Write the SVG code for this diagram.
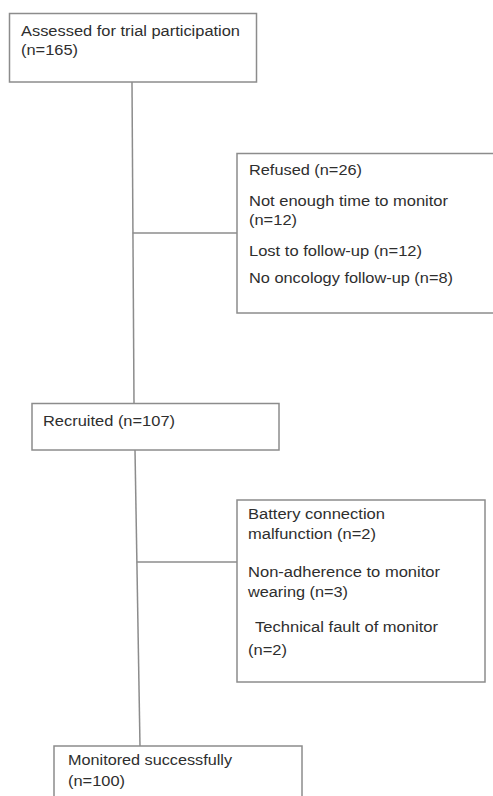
<svg xmlns="http://www.w3.org/2000/svg" width="493" height="796" viewBox="0 0 493 796">
<style>
.box{fill:#fff;stroke:#8c8c8c;stroke-width:1.5}
.ln{fill:none;stroke:#8c8c8c;stroke-width:1.5}
text{font-family:"Liberation Sans",Arial,sans-serif;font-size:14px;fill:#2e2e2e}
</style>
<rect width="493" height="796" fill="#fff"/>
<g id="connectors">
<line class="ln" x1="132" y1="82" x2="134" y2="403"/>
<line class="ln" x1="132.7" y1="233" x2="237" y2="233"/>
<line class="ln" x1="135" y1="450" x2="140" y2="746"/>
<line class="ln" x1="136.9" y1="562" x2="237" y2="562"/>
</g>
<g id="assessed">
<rect class="box" x="9.5" y="13.5" width="247" height="68.5"/>
<text x="21" y="36" textLength="219" lengthAdjust="spacingAndGlyphs">Assessed for trial participation</text>
<text x="21" y="55" textLength="57" lengthAdjust="spacingAndGlyphs">(n=165)</text>
</g>
<g id="refused">
<rect class="box" x="237" y="153.5" width="262" height="159.5"/>
<text x="249" y="175" textLength="113" lengthAdjust="spacingAndGlyphs">Refused (n=26)</text>
<text x="249" y="206" textLength="199" lengthAdjust="spacingAndGlyphs">Not enough time to monitor</text>
<text x="249" y="225" textLength="48" lengthAdjust="spacingAndGlyphs">(n=12)</text>
<text x="249" y="256" textLength="173" lengthAdjust="spacingAndGlyphs">Lost to follow-up (n=12)</text>
<text x="249" y="283" textLength="204" lengthAdjust="spacingAndGlyphs">No oncology follow-up (n=8)</text>
</g>
<g id="recruited">
<rect class="box" x="32" y="403.5" width="247" height="46.5"/>
<text x="43" y="426" textLength="132" lengthAdjust="spacingAndGlyphs">Recruited (n=107)</text>
</g>
<g id="excluded">
<rect class="box" x="237" y="500" width="248" height="182"/>
<text x="248" y="519" textLength="137" lengthAdjust="spacingAndGlyphs">Battery connection</text>
<text x="248" y="539" textLength="128" lengthAdjust="spacingAndGlyphs">malfunction (n=2)</text>
<text x="248" y="577" textLength="192" lengthAdjust="spacingAndGlyphs">Non-adherence to monitor</text>
<text x="248" y="597" textLength="100" lengthAdjust="spacingAndGlyphs">wearing (n=3)</text>
<text x="255" y="632" textLength="183" lengthAdjust="spacingAndGlyphs">Technical fault of monitor</text>
<text x="248" y="655" textLength="39" lengthAdjust="spacingAndGlyphs">(n=2)</text>
</g>
<g id="monitored">
<rect class="box" x="54" y="746" width="248" height="60"/>
<text x="68" y="765" textLength="164" lengthAdjust="spacingAndGlyphs">Monitored successfully</text>
<text x="68" y="786" textLength="57" lengthAdjust="spacingAndGlyphs">(n=100)</text>
</g>
</svg>
